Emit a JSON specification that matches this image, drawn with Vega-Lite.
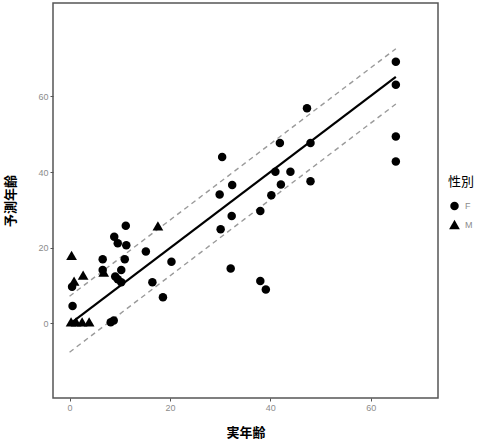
{
  "$schema": "https://vega.github.io/schema/vega-lite/v6.json",
  "width": 385,
  "height": 395,
  "autosize": "none",
  "padding": {"left": 53, "top": 3, "right": 39, "bottom": 46},
  "background": "white",
  "config": {
    "font": "Noto Sans CJK JP",
    "view": {"stroke": "#555555", "strokeWidth": 1.5},
    "axis": {"grid": false, "domain": false, "tickColor": "#555555", "tickSize": 3, "labelColor": "#8c8c8c", "labelFontSize": 9, "labelFont": "Liberation Sans", "titleFontSize": 13, "titleFontWeight": "bold", "titleColor": "#000000", "labelPadding": 2},
    "legend": {"orient": "none", "legendX": 395, "legendY": 173, "titleFontSize": 13, "titleFontWeight": "normal", "titleColor": "#000000", "labelFontSize": 9, "labelColor": "#8c8c8c", "labelFont": "Liberation Sans", "symbolFillColor": "#000000", "symbolStrokeColor": "#000000", "rowPadding": 2, "titlePadding": 12}
  },
  "datasets": {
    "lines": [
      {"x": 0, "y": -0.2, "line": "fit"},
      {"x": 65, "y": 65.2, "line": "fit"},
      {"x": 0, "y": 7.2, "line": "upper"},
      {"x": 65, "y": 72.6, "line": "upper"},
      {"x": 0, "y": -7.6, "line": "lower"},
      {"x": 65, "y": 58.0, "line": "lower"}
    ],
    "points": [
      {"actual": 0.4, "predicted": 18.0, "sex": "M"},
      {"actual": 0.9, "predicted": 11.2, "sex": "M"},
      {"actual": 2.7, "predicted": 12.8, "sex": "M"},
      {"actual": 0.3, "predicted": 0.4, "sex": "M"},
      {"actual": 1.3, "predicted": 0.4, "sex": "M"},
      {"actual": 2.5, "predicted": 0.4, "sex": "M"},
      {"actual": 3.9, "predicted": 0.4, "sex": "M"},
      {"actual": 6.8, "predicted": 13.6, "sex": "M"},
      {"actual": 17.6, "predicted": 25.8, "sex": "M"},
      {"actual": 0.5, "predicted": 9.7, "sex": "F"},
      {"actual": 0.6, "predicted": 4.6, "sex": "F"},
      {"actual": 6.6, "predicted": 17.0, "sex": "F"},
      {"actual": 6.6, "predicted": 14.1, "sex": "F"},
      {"actual": 8.9, "predicted": 22.9, "sex": "F"},
      {"actual": 9.6, "predicted": 21.2, "sex": "F"},
      {"actual": 11.3, "predicted": 20.7, "sex": "F"},
      {"actual": 11.2, "predicted": 25.8, "sex": "F"},
      {"actual": 11.0, "predicted": 17.0, "sex": "F"},
      {"actual": 10.3, "predicted": 14.1, "sex": "F"},
      {"actual": 9.1, "predicted": 12.4, "sex": "F"},
      {"actual": 9.6, "predicted": 11.7, "sex": "F"},
      {"actual": 10.3, "predicted": 10.9, "sex": "F"},
      {"actual": 8.2, "predicted": 0.3, "sex": "F"},
      {"actual": 8.8, "predicted": 0.8, "sex": "F"},
      {"actual": 15.2, "predicted": 19.0, "sex": "F"},
      {"actual": 16.5, "predicted": 10.9, "sex": "F"},
      {"actual": 20.3, "predicted": 16.3, "sex": "F"},
      {"actual": 18.6, "predicted": 6.9, "sex": "F"},
      {"actual": 30.1, "predicted": 24.9, "sex": "F"},
      {"actual": 32.3, "predicted": 28.4, "sex": "F"},
      {"actual": 32.1, "predicted": 14.5, "sex": "F"},
      {"actual": 65.0, "predicted": 69.2, "sex": "F"},
      {"actual": 65.0, "predicted": 63.1, "sex": "F"},
      {"actual": 65.0, "predicted": 49.4, "sex": "F"},
      {"actual": 65.0, "predicted": 42.8, "sex": "F"},
      {"actual": 47.3, "predicted": 56.9, "sex": "F"},
      {"actual": 41.9, "predicted": 47.7, "sex": "F"},
      {"actual": 48.0, "predicted": 47.7, "sex": "F"},
      {"actual": 30.4, "predicted": 44.0, "sex": "F"},
      {"actual": 41.0, "predicted": 40.1, "sex": "F"},
      {"actual": 44.0, "predicted": 40.1, "sex": "F"},
      {"actual": 42.1, "predicted": 36.7, "sex": "F"},
      {"actual": 48.0, "predicted": 37.6, "sex": "F"},
      {"actual": 40.2, "predicted": 33.9, "sex": "F"},
      {"actual": 38.0, "predicted": 29.7, "sex": "F"},
      {"actual": 32.4, "predicted": 36.6, "sex": "F"},
      {"actual": 29.9, "predicted": 34.1, "sex": "F"},
      {"actual": 38.0, "predicted": 11.2, "sex": "F"},
      {"actual": 39.1, "predicted": 9.0, "sex": "F"}
    ]
  },
  "layer": [
    {
      "data": {"name": "lines"},
      "transform": [{"filter": "datum.line !== 'fit'"}],
      "mark": {"type": "line", "color": "#9a9a9a", "strokeWidth": 1.4, "strokeDash": [5, 4], "clip": true},
      "encoding": {
        "x": {"field": "x", "type": "quantitative"},
        "y": {"field": "y", "type": "quantitative"},
        "detail": {"field": "line"}
      }
    },
    {
      "data": {"name": "lines"},
      "transform": [{"filter": "datum.line === 'fit'"}],
      "mark": {"type": "line", "color": "#000000", "strokeWidth": 2.2, "clip": true},
      "encoding": {
        "x": {"field": "x", "type": "quantitative"},
        "y": {"field": "y", "type": "quantitative"}
      }
    },
    {
      "data": {"name": "points"},
      "mark": {"type": "point", "filled": true, "opacity": 1, "color": "#000000"},
      "encoding": {
        "x": {"field": "actual", "type": "quantitative", "title": "実年齢",
              "scale": {"domain": [-3.3, 73.4], "nice": false, "zero": false},
              "axis": {"values": [0, 20, 40, 60], "titlePadding": 14}},
        "y": {"field": "predicted", "type": "quantitative", "title": "予測年齢",
              "scale": {"domain": [-19.7, 84.7], "nice": false, "zero": false},
              "axis": {"values": [0, 20, 40, 60], "titlePadding": 20}},
        "size": {"field": "sex", "type": "nominal", "title": "性別", "scale": {"domain": ["F", "M"], "range": [72, 115]}},
        "shape": {"field": "sex", "type": "nominal", "title": "性別",
                  "scale": {"domain": ["F", "M"], "range": ["circle", "triangle-up"]}}
      }
    }
  ]
}
